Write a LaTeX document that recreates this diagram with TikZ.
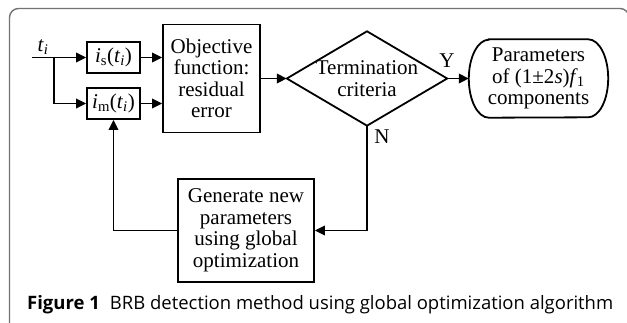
\documentclass[tikz,border=0pt]{standalone}
\usepackage{fontspec}
\setmainfont{Liberation Serif}
\newfontfamily\capfont{Open Sans}
\usetikzlibrary{arrows.meta}
\definecolor{framegray}{gray}{0.45}
\begin{document}
\begin{tikzpicture}[x=1pt,y=1pt,
  every node/.style={font=\fontsize{21}{21.5}\selectfont},
  blockbox/.style={draw, line width=1.8pt, align=center, inner sep=0pt},
  hollow/.style={align=center, inner sep=0pt},
  flow/.style={line width=1.8pt, -{Triangle[length=10pt,width=9.5pt]}},
  plain/.style={line width=1.8pt}]
\useasboundingbox (0,0) rectangle (627,-322);
% outer frame, partly running off the page
\begin{scope}
  \clip (0,0) rectangle (627,-322);
  \draw[framegray, line width=1.4pt, rounded corners=9pt] (9.5,-8.5) rectangle (629,-332);
\end{scope}

% blocks
\node[blockbox, minimum width=53pt, minimum height=31pt] (is) at (113.5,-57.5)
  {\textit{i}\textsubscript{s}(\textit{t}\textsubscript{\textit{i}})};
\node[blockbox, minimum width=53pt, minimum height=31pt] (im) at (113.5,-103.5)
  {\textit{i}\textsubscript{m}(\textit{t}\textsubscript{\textit{i}})};
\node[blockbox, minimum width=97pt, minimum height=108pt] (obj) at (211.5,-78.5)
  {Objective\\function:\\residual\\error};
\node[hollow, minimum width=160pt, minimum height=94pt] (crit) at (367,-78.5)
  {Termination\\criteria};
\draw[plain] (crit.west) -- (crit.north) -- (crit.east) -- (crit.south) -- cycle;
\node[hollow, minimum width=139pt, minimum height=78pt] (out) at (538.5,-78.5)
  {Parameters\\of (1±2\textit{s})\textit{f}\kern-1pt\textsubscript{1}\\components};
\draw[plain] ([xshift=20pt]out.north west) -- ([xshift=-20pt]out.north east)
  arc[start angle=90, end angle=-90, x radius=20pt, y radius=39pt]
  -- ([xshift=20pt]out.south west)
  arc[start angle=270, end angle=90, x radius=20pt, y radius=39pt] -- cycle;
\node[blockbox, minimum width=136pt, minimum height=103pt] (gen) at (246,-230.5)
  {Generate new\\parameters\\using global\\optimization};

% labels
\node (tlbl) at (43,-47) {\textit{t}\textsubscript{\textit{i}}};
\node (ylbl) at (447,-61) {Y};
\node (nlbl) at (382,-137) {N};

% connectors
\coordinate (src) at (32,-57.5);
\coordinate (fork) at (54,-57.5);
\draw[flow] (src) -- (is.west);
\draw[flow] (fork) |- (im.west);
\draw[flow] (is.east) -- (is.east -| obj.west);
\draw[flow] (im.east) -- (im.east -| obj.west);
\draw[flow] (obj.east) -- (crit.west);
\draw[flow] (crit.east) -- (out.west);
\draw[flow] (crit.south) |- (gen.east);
\draw[flow] (gen.west) -| (im.south);

% caption
\node[anchor=base west, inner sep=0pt, font=\capfont\fontsize{16}{18}\selectfont] (cap) at (27,-309)
  {\resizebox{586pt}{!}{\textbf{Figure 1}\hspace{0.55em}BRB detection method using global optimization algorithm}};
\end{tikzpicture}
\end{document}
